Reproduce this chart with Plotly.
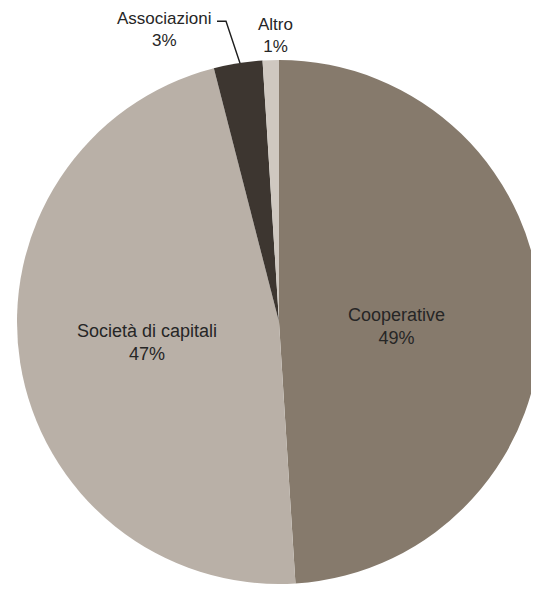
import math
import plotly.graph_objects as go

labels = ["Cooperative", "Società di capitali", "Associazioni", "Altro"]
values = [49, 47, 3, 1]
colors = ["#867a6c", "#b9b0a7", "#3d3630", "#cfc8c0"]

# label styling (not data): inside radius fraction, or None for outside
label_radius = [0.45, 0.51, None, None]

# page offset (browser body margin) and geometry in screen pixels
OFF = 8
W, H = 539, 590
L, T = 9, 52
PW = PH = 524
R_M = W - L - PW
B_M = H - T - PH
rad = PW / 2
cx, cy = OFF + L + PW / 2, OFF + T + PH / 2

FONT = "Arial, Liberation Sans, sans-serif"
TXT = "#262626"

fig = go.Figure(go.Pie(
    labels=labels,
    values=values,
    sort=False,
    direction="clockwise",
    rotation=0,
    marker=dict(colors=colors, line=dict(width=0)),
    textinfo="none",
    hoverinfo="label+percent",
    showlegend=False,
))


def to_paper(sx, sy):
    return (sx - OFF - L) / PW, 1 - (sy - OFF - T) / PH


total = sum(values)
cum = 0
annotations = []
shapes = []
for lab, v, kr in zip(labels, values, label_radius):
    mid = (cum + v / 2) / total * 2 * math.pi
    cum += v
    pct = round(v / total * 100)
    txt = f"{lab}<br>{pct}%"
    if kr is not None:
        sx = cx + kr * rad * math.sin(mid)
        sy = cy - kr * rad * math.cos(mid)
        xp, yp = to_paper(sx, sy)
        annotations.append(dict(
            x=xp, y=yp, xref="paper", yref="paper", text=txt,
            showarrow=False, xanchor="center", yanchor="middle",
            yshift=-8 if lab == "Cooperative" else 0,
            font=dict(family=FONT, size=18, color=TXT),
        ))
        continue
    sx = cx + rad * math.sin(mid)
    sy = cy - rad * math.cos(mid)
    if lab == "Associazioni":
        # leader line with elbow from slice edge to label end
        p0 = to_paper(sx + 2, sy)
        p1 = to_paper(sx - 12, sy - 42)
        p2 = to_paper(sx - 21, sy - 42)
        shapes.append(dict(
            type="path", xref="paper", yref="paper",
            path=f"M {p0[0]},{p0[1]} L {p1[0]},{p1[1]} L {p2[0]},{p2[1]}",
            line=dict(color="#1e1e1e", width=1.4),
        ))
        xp, yp = to_paper(sx - 74, sy - 34)
        annotations.append(dict(
            x=xp, y=yp, xref="paper", yref="paper", text=txt,
            showarrow=False, xanchor="center", yanchor="middle",
            font=dict(family=FONT, size=17, color=TXT),
        ))
    else:
        xp, yp = to_paper(sx, sy)
        annotations.append(dict(
            x=xp, y=yp, xref="paper", yref="paper", text=txt,
            showarrow=False, xanchor="center", yanchor="bottom",
            xshift=5, yshift=2,
            font=dict(family=FONT, size=17, color=TXT),
        ))

fig.update_layout(
    width=W, height=H,
    margin=dict(l=L, r=R_M, t=T, b=B_M),
    paper_bgcolor="white",
    plot_bgcolor="white",
    annotations=annotations,
    shapes=shapes,
)

fig.write_html("out.html")
